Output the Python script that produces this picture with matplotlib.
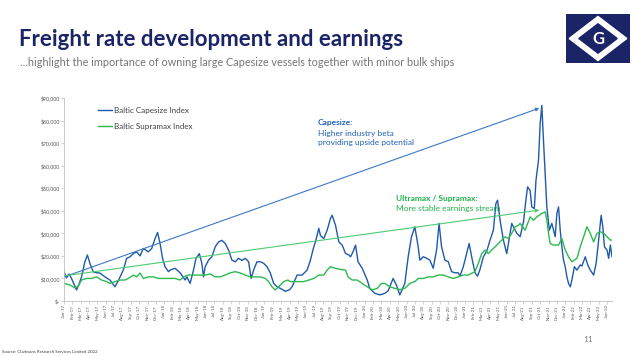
import matplotlib
matplotlib.use("Agg")
import matplotlib.pyplot as plt
import pandas as pd
from matplotlib import font_manager
from matplotlib.patches import Rectangle, Polygon

# months since Jan-17 (fractional) and $/day
cape_t = [0.0, 0.3, 0.6, 0.9, 1.2, 1.5, 1.8, 2.1, 2.5, 2.8, 3.1, 3.5, 3.9, 4.3, 4.9, 5.5, 6.1, 6.5,
          7.1, 7.5, 7.9, 8.3, 8.7, 9.1, 9.5, 10.1, 10.5, 10.9, 11.2, 11.5, 11.8, 12.1, 12.5, 12.7,
          13.3, 13.9, 14.5, 14.7, 15.1, 15.5, 15.8, 16.2, 16.5, 16.7, 16.9, 17.3, 17.7, 18.1, 18.5,
          18.9, 19.3, 19.7, 20.1, 20.5, 20.9, 21.3, 21.7, 22.1, 22.4, 22.7, 23.1, 23.5, 23.9, 24.3,
          24.7, 25.1, 25.5, 25.9, 26.5, 27.0, 27.3, 27.9, 28.5, 29.1, 29.5, 29.9, 30.1, 30.5, 30.7,
          31.1, 31.5, 31.9, 32.1, 32.5, 32.9, 33.3, 33.7, 34.1, 34.3, 34.6, 34.9, 35.2, 35.7, 36.3,
          36.6, 37.2, 37.8, 38.4, 38.8, 39.4, 39.8, 40.2, 40.8, 41.2, 41.6, 42.0, 42.2, 42.4, 42.6,
          43.0, 43.4, 43.8, 44.2, 44.6, 44.9, 45.2, 45.6, 46.0, 46.4, 46.8, 47.2, 47.4, 47.8, 48.2,
          48.5, 48.8, 49.2, 49.5, 49.8, 50.2, 50.6, 51.0, 51.4, 51.7, 51.9, 52.2, 52.6, 53.0, 53.6,
          54.2, 54.6, 55.0, 55.3, 55.5, 55.8, 56.0, 56.3, 56.5, 56.8, 57.0, 57.2, 57.4, 57.6, 57.8,
          58.1, 58.4, 58.8, 59.0, 59.2, 59.4, 59.6, 59.8, 60.0, 60.2, 60.4, 60.6, 60.8, 61.1, 61.4,
          61.8, 62.0, 62.4, 62.7, 63.0, 63.4, 63.7, 64.0, 64.3, 64.5, 64.7, 65.0, 65.2, 65.4, 65.6]
cape_v = [13000, 10200, 12000, 10000, 7500, 4900, 7500, 10700, 17400, 20400, 16700, 13000, 12500,
          12400, 10700, 9300, 6300, 9000, 13700, 18900, 19600, 21000, 21800, 20000, 23300, 21800,
          23300, 27700, 30400, 25500, 18900, 15200, 13000, 13700, 14500, 12500, 9300, 10700, 7800,
          13700, 18900, 21000, 16700, 10700, 15200, 18100, 19600, 24000, 26200, 26900, 25500, 22600,
          18100, 17400, 18900, 18000, 18900, 17400, 10000, 13700, 17400, 17400, 16700, 15200, 12400,
          7800, 6300, 5600, 4300, 5000, 6300, 11500, 11500, 13700, 18100, 24000, 26200, 32200, 29000,
          27700, 31400, 36600, 38000, 33600, 26200, 24800, 21100, 20400, 19600, 21800, 24800, 17400,
          14500, 9300, 5600, 3400, 2700, 3400, 4500, 10000, 7000, 2700, 7800, 19600, 28500, 32900,
          28500, 24000, 18100, 19600, 19000, 18100, 14500, 22600, 34400, 24000, 18100, 17400, 13000,
          12500, 12500, 11000, 15200, 21100, 25500, 19600, 12500, 11000, 14000, 19600, 22000, 27000,
          31400, 43200, 44700, 35800, 27000, 21000, 34400, 30000, 28500, 35000, 45000, 50600, 49000,
          41700, 41000, 53500, 62400, 78600, 86700, 71000, 56500, 41700, 31400, 34400, 28500, 38800,
          41700, 31400, 24000, 18100, 15200, 10700, 7800, 6300, 9300, 15200, 13700, 16000, 15500,
          19600, 16000, 13700, 11500, 16700, 27000, 38000, 32900, 24000, 22600, 18900, 24800, 19600]

supra_t = [0.0, 0.7, 1.3, 1.7, 2.1, 2.7, 3.3, 3.9, 4.5, 5.1, 5.5, 6.1, 6.7, 7.3, 7.7, 8.3, 8.7, 9.1,
           9.5, 10.1, 10.7, 11.3, 12.1, 12.7, 13.3, 13.9, 14.3, 14.9, 15.5, 16.3, 16.9, 17.5, 18.1,
           18.7, 19.3, 19.9, 20.5, 21.1, 21.7, 22.3, 22.9, 23.5, 24.1, 24.5, 24.9, 25.3, 25.7, 26.3,
           26.8, 27.1, 27.9, 28.7, 29.3, 29.9, 30.5, 31.1, 31.5, 31.9, 32.5, 33.1, 33.7, 34.0, 34.5,
           35.1, 35.7, 36.3, 36.9, 37.5, 38.0, 38.4, 39.0, 39.6, 40.2, 40.8, 41.4, 42.0, 42.4, 43.0,
           43.6, 44.2, 44.8, 45.4, 46.0, 46.6, 47.2, 47.8, 48.4, 48.8, 49.2, 49.6, 50.0, 50.4, 50.8,
           51.2, 51.6, 52.0, 52.4, 52.8, 53.2, 53.6, 54.0, 54.4, 54.6, 55.2, 55.8, 56.2, 56.6, 57.2,
           57.6, 57.8, 58.0, 58.2, 58.6, 59.2, 59.6, 60.0, 60.4, 60.8, 61.4, 61.8, 62.2, 62.6, 63.0,
           63.4, 63.8, 64.2, 64.6, 65.0, 65.4, 65.6]
supra_v = [7800, 7100, 5800, 6500, 9300, 10000, 10000, 10700, 9300, 8600, 7800, 8600, 9300, 9300,
           10000, 11500, 10700, 12400, 10000, 10700, 10700, 10000, 10000, 10000, 10000, 9300, 10700,
           11500, 11500, 11500, 11500, 12000, 10700, 10700, 11500, 12500, 13000, 12400, 11500, 10700,
           10700, 10700, 10000, 8600, 6300, 4900, 6300, 8600, 9300, 8600, 8600, 8600, 9300, 10000,
           11500, 11500, 13700, 15200, 14500, 14000, 13700, 10700, 9300, 9300, 7800, 6300, 4900, 5600,
           7800, 7800, 6300, 5600, 5000, 5600, 7800, 8600, 10000, 10000, 10700, 10700, 11500, 11500,
           10700, 10000, 10700, 11500, 11500, 12300, 13000, 16700, 21000, 22600, 21000, 22600, 24000,
           25500, 27000, 28500, 27700, 30000, 32900, 33600, 34400, 31400, 37300, 35800, 37300, 38800,
           39500, 35800, 30000, 25500, 24800, 24800, 27700, 22600, 19600, 17400, 18900, 24000, 28500,
           32900, 30000, 26200, 30000, 30700, 30000, 28500, 27000, 27000]

month_labels = pd.date_range("2017-01-01", "2022-06-01", freq="MS").strftime("%b-%y").tolist()
y_ticks = list(range(0, 90001, 10000))

# trend arrows (month, value) -> (month, value)
cape_arrow = ((0.1, 10800), (56.9, 85500))
supra_arrow = ((0.1, 11200), (56.9, 40300))

NAVY = "#1B2466"
CAPE = "#1F5AAA"
CAPE_LIGHT = "#3D78C8"
CAPE_TXT = "#1F5FB5"
SUPRA = "#2DBA50"
SUPRA_LIGHT = "#4CCB72"
TXT_GREEN = "#1FB14A"
GRAY = "#7F7F7F"


def pick_font(names):
    available = {f.name for f in font_manager.fontManager.ttflist}
    for name in names:
        if name in available:
            return name
    return "DejaVu Sans"


def pix(x, y):
    return x / 640, 1 - y / 356


def draw_logo(fig):
    lax = fig.add_axes([566 / 640, 1 - 63 / 356, 64 / 640, 49 / 356])
    lax.set_xlim(0, 1)
    lax.set_ylim(0, 1)
    lax.axis("off")
    lax.add_patch(Rectangle((0, 0), 1, 1, color=NAVY))
    lax.add_patch(Polygon([(0.5, 0.95), (0.95, 0.5), (0.5, 0.05), (0.05, 0.5)], color="white"))
    lax.add_patch(Polygon([(0.5, 0.8), (0.8, 0.5), (0.5, 0.2), (0.2, 0.5)], color=NAVY))
    lax.text(0.5, 0.5, "G", color="white", fontsize=12, fontweight="bold",
             ha="center", va="center", family="Lato")


def plot_chart():
    plt.rcParams["font.family"] = ["Lato", "DejaVu Sans"]
    fig = plt.figure(figsize=(6.4, 3.56), dpi=100)

    title_font = pick_font(["Liberation Sans Narrow", "Lato"])
    fig.text(*pix(19, 40), "Freight rate development and earnings", color=NAVY,
             fontsize=16, fontweight="bold", family=title_font, va="center")
    fig.text(*pix(20, 63), "...highlight the importance of owning large Capesize vessels "
             "together with minor bulk ships", color="#767676", fontsize=7.8, va="center")
    draw_logo(fig)

    ax = fig.add_axes([64 / 640, 1 - 301 / 356, (612 - 64) / 640, (301 - 98) / 356])
    ax.plot(cape_t, cape_v, color=CAPE, lw=1.0, label="Baltic Capesize Index")
    ax.plot(supra_t, supra_v, color=SUPRA, lw=1.0, label="Baltic Supramax Index")

    for (start, end), col in [(cape_arrow, CAPE_LIGHT), (supra_arrow, SUPRA_LIGHT)]:
        ax.annotate("", xy=end, xytext=start,
                    arrowprops=dict(arrowstyle="-|>", color=col, lw=0.8,
                                    mutation_scale=5, shrinkA=0, shrinkB=0))

    ax.set_xlim(0, 65.6)
    ax.set_ylim(0, 90000)
    ax.set_yticks(y_ticks)
    ax.set_yticklabels(["$-" if v == 0 else f"${v:,.0f}" for v in y_ticks])
    ax.set_xticks(range(len(month_labels)))
    ax.set_xticklabels(month_labels, rotation=90)
    ax.tick_params(axis="y", labelsize=3.8, colors="#BFBFBF", labelcolor="#595959",
                   length=2, width=0.5, pad=1)
    ax.tick_params(axis="x", labelsize=3.2, colors="#BFBFBF", labelcolor="#595959",
                   length=2, width=0.5, pad=1)
    for side in ["top", "right"]:
        ax.spines[side].set_visible(False)
    for side in ["left", "bottom"]:
        ax.spines[side].set_color("#BFBFBF")
        ax.spines[side].set_linewidth(0.6)

    leg = ax.legend(loc="upper left", bbox_to_anchor=(0.062, 0.955), frameon=False,
                    fontsize=5.8, handlelength=1.7, handletextpad=0.3,
                    labelspacing=1.05, borderpad=0, borderaxespad=0)
    for t in leg.get_texts():
        t.set_color("#404040")

    fig.text(*pix(318, 123), "Capesize:", color=CAPE_TXT, fontsize=6, fontweight="bold",
             va="center")
    fig.text(*pix(318, 133), "Higher industry beta", color=CAPE_TXT, fontsize=6, va="center")
    fig.text(*pix(318, 143), "providing upside potential", color=CAPE_TXT, fontsize=6,
             va="center")
    fig.text(*pix(396, 198), "Ultramax / Supramax:", color=TXT_GREEN, fontsize=6,
             fontweight="bold", va="center")
    fig.text(*pix(396, 208), "More stable earnings stream", color=TXT_GREEN, fontsize=6,
             va="center")

    fig.text(*pix(2, 352), "Source: Clarksons Research Services Limited 2022", color="#404040",
             fontsize=3.2, va="center")
    fig.text(*pix(583, 340), "11", color=GRAY, fontsize=6, va="center")

    fig.savefig("out.png", dpi=100)


if __name__ == "__main__":
    plot_chart()
